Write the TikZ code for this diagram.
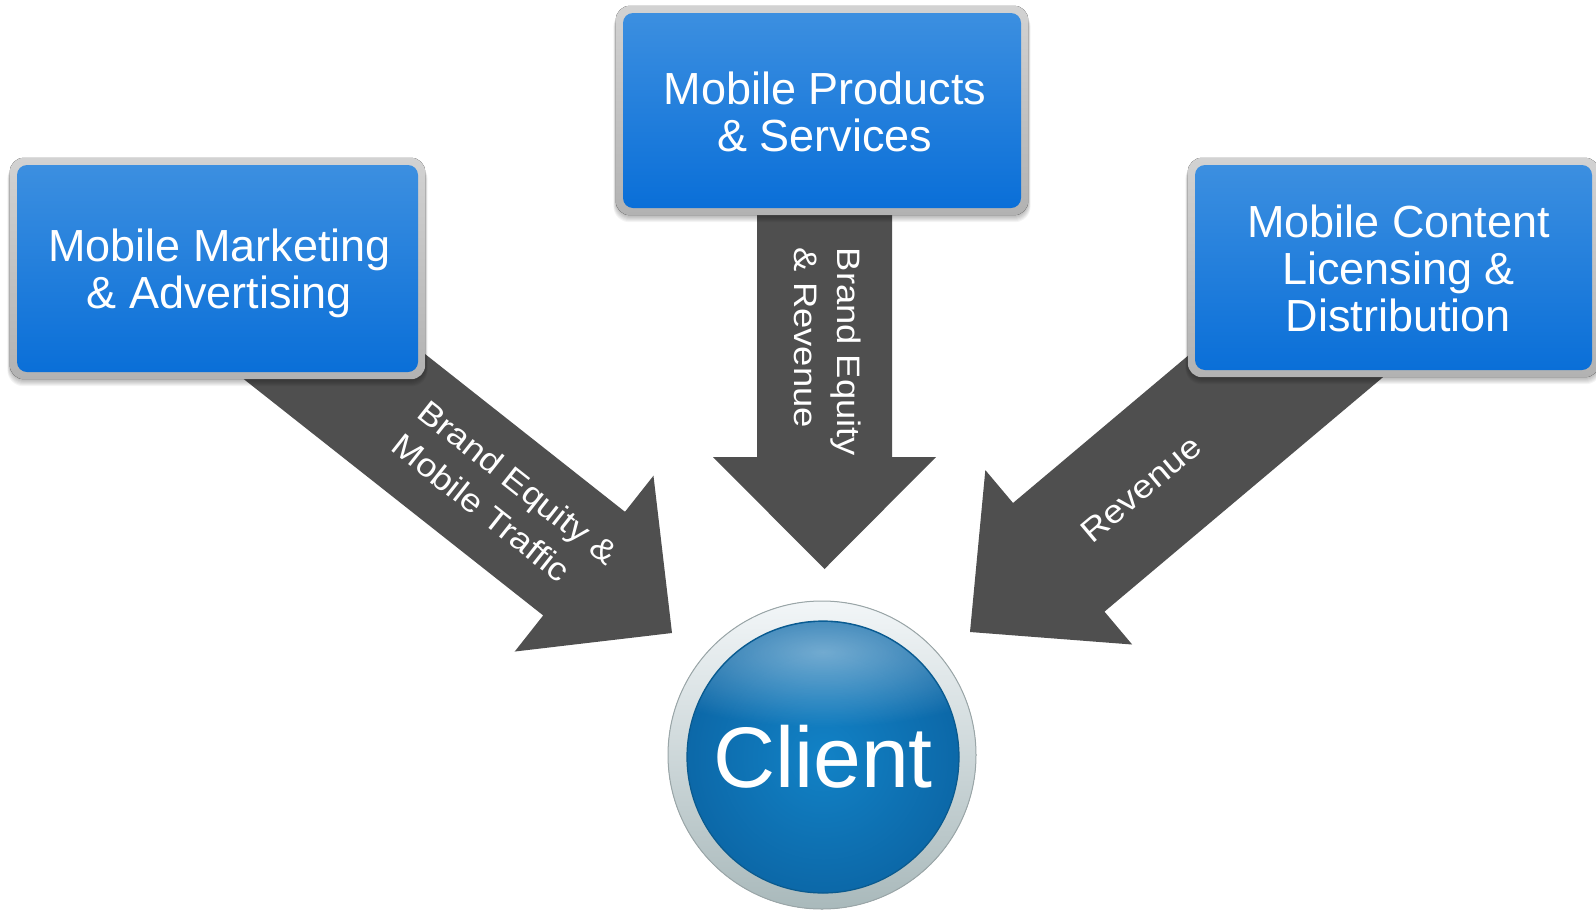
\documentclass[tikz,border=0pt]{standalone}
\usepackage{fontspec}
\setmainfont{Liberation Sans}
\newfontfamily\labelsans[FakeStretch=1.12]{Liberation Sans}
\usetikzlibrary{calc,fadings}

\definecolor{arrowgray}{HTML}{4F4F4F}
\definecolor{boxtop}{HTML}{3C8FE0}
\definecolor{boxmid}{HTML}{1788D2}
\definecolor{boxbot}{HTML}{0A6FD8}
\definecolor{frametop}{HTML}{D2D2D2}
\definecolor{framemid}{HTML}{E4E4E4}
\definecolor{framebot}{HTML}{B2B2B2}
\definecolor{ringtop}{HTML}{F2F6F8}
\definecolor{ringbot}{HTML}{A9B9BB}
\definecolor{ringedge}{HTML}{9AA6A8}
\definecolor{ballin}{HTML}{1282C6}
\definecolor{ballout}{HTML}{0C68A8}
\definecolor{balledge}{HTML}{0A5A8E}

\tikzfading[name=softglow, inner color=transparent!0, outer color=transparent!100]

\pgfdeclarelayer{arrowlayer}
\pgfdeclarelayer{framelayer}
\pgfsetlayers{arrowlayer,framelayer,main}

% block arrow: #1 start, #2 tip, #3 half shaft width, #4 half head width, #5 head length
\newcommand\blockarrow[5]{%
  \coordinate (ba-base) at ($(#2)!#5!(#1)$);
  \fill[arrowbody] ($(#1)!#3!90:(#2)$) -- ($(ba-base)!#3!90:(#2)$)
    -- ($(ba-base)!#4!90:(#2)$) -- (#2) -- ($(ba-base)!#4!-90:(#2)$)
    -- ($(ba-base)!#3!-90:(#2)$) -- ($(#1)!#3!-90:(#2)$) -- cycle;
}

% soft shadow under a framed box
\newcommand\softshadow[1]{%
  \foreach \s in {1,...,6} {
    \fill[black, opacity=0.045, rounded corners=16pt]
      ($(#1.north west)+(-7-\s*0.4,-2)$) rectangle ($(#1.south east)+(7+\s*0.4,8+\s)$);
  }
}

\begin{document}
\begin{tikzpicture}[x=1pt, y=-1pt,
  boxface/.style={rounded corners=10pt, top color=boxtop, middle color=boxmid,
    bottom color=boxbot, inner sep=0pt},
  boxtext/.style={inner sep=0pt, align=center, text=white,
    font=\fontsize{45}{47}\selectfont},
  boxframe/.style={rounded corners=14pt, top color=frametop, middle color=framemid,
    bottom color=framebot},
  arrowbody/.style={fill=arrowgray},
  arrowtext/.style={text=white, align=left, inner sep=0pt,
    font=\labelsans\fontsize{32.5}{43}\selectfont},
]
\useasboundingbox (0,0) rectangle (1596,911);

% the three source boxes
\node[boxface, minimum width=401pt, minimum height=207pt] (mk) at (217.5,268.5) {};
\node[boxface, minimum width=398pt, minimum height=195pt] (ps) at (822,110.5) {};
\node[boxface, minimum width=397pt, minimum height=205pt] (cd) at (1393.5,267.5) {};
\node[boxtext] (mktext) at ($(mk.center)+(2,5)$) {Mobile Marketing\\\& Advertising};
\node[boxtext] (pstext) at ($(ps.center)+(3,1)$) {Mobile Products\\\& Services};
\node[boxtext] (cdtext) at ($(cd.center)+(5,1)$) {Mobile Content\\Licensing \&\\Distribution};

% the client button
\node[circle, minimum size=272pt, inner sep=0pt, inner color=ballin, outer color=ballout,
  draw=balledge, line width=1.2pt, text=white, font=\fontsize{86}{90}\selectfont]
  (client) at (823,757) {Client};
\begin{scope}
  \clip (client.center) circle (135pt);
  \fill[white, fill opacity=0.42, path fading=softglow]
    ($(client.center)+(0,-105)$) ellipse [x radius=210pt, y radius=75pt];
\end{scope}

% arrow end points
\coordinate (mkstart) at (264,311);
\coordinate (mktip) at (672,633);
\coordinate (psstart) at (824.5,200);
\coordinate (pstip) at (824.5,569);
\coordinate (cdstart) at (1368,297);
\coordinate (cdtip) at (970,632);

% arrow labels
\node[arrowtext, rotate=-90] (lblps) at (828,352) {Brand Equity\\\& Revenue};
\node[arrowtext, rotate=-38.3] (lblmk) at (505,499) {Brand Equity \&\\Mobile Traffic};
\node[arrowtext, rotate=40] (lblcd) at (1141,489) {Revenue};

\begin{pgfonlayer}{framelayer}
  \foreach \b in {mk,ps,cd} {
    \softshadow{\b}
    \fill[boxframe] ($(\b.north west)+(-7,-7)$) rectangle ($(\b.south east)+(7,7)$);
  }
  \fill[top color=ringtop, bottom color=ringbot] ($(client.center)+(-1,-2)$) circle (154pt);
  \draw[ringedge, line width=1pt] ($(client.center)+(-1,-2)$) circle (154pt);
\end{pgfonlayer}

\begin{pgfonlayer}{arrowlayer}
  \fill[white] (0,0) rectangle (1596,911);
  \blockarrow{mkstart}{mktip}{66pt}{112pt}{112pt}
  \blockarrow{psstart}{pstip}{67.5pt}{111.5pt}{112pt}
  \blockarrow{cdstart}{cdtip}{71pt}{114pt}{116pt}
\end{pgfonlayer}
\end{tikzpicture}
\end{document}
